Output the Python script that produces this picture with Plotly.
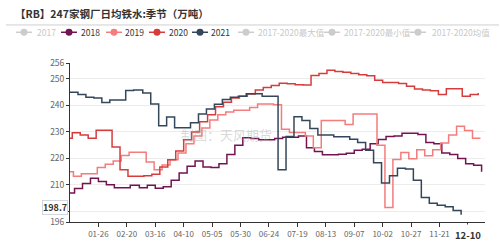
import datetime as dt
import plotly.graph_objects as go

# ---------------- data ----------------
# category axis: MM-DD of a leap year (366 days)
days = [(dt.date(2020, 1, 1) + dt.timedelta(d)).strftime("%m-%d") for d in range(366)]
tick_labels = ["01-26", "02-20", "03-16", "04-10", "05-05", "05-30", "06-24",
               "07-19", "08-13", "09-07", "10-02", "10-27", "11-21", "12-16"]

years = ["2018", "2019", "2020", "2021"]
start_2018 = 206.9
v2018 = [208.6, 210.5, 212.5, 211.3, 210.1, 208.9, 208.9, 209.9, 208.9, 209.9,
         208.7, 209.3, 211.8, 214.5, 217.0, 219.0, 216.8, 216.6, 218.0, 221.5,
         225.0, 227.8, 227.5, 227.0, 227.0, 227.5, 228.0, 228.0, 228.5, 224.0,
         222.6, 221.4, 221.4, 221.6, 221.9, 223.1, 223.5, 225.5, 227.1, 228.3,
         228.5, 229.5, 229.5, 229.0, 226.0, 225.5, 222.0, 221.5, 220.0, 218.0,
         217.4, 215.0]
start_2019 = 215.0
v2019 = [213.3, 214.2, 214.2, 216.6, 217.8, 219.0, 221.1, 222.3, 222.3, 218.6,
         215.7, 217.5, 219.5, 222.0, 225.5, 228.5, 231.5, 234.5, 236.5, 237.5,
         238.2, 238.2, 239.2, 240.5, 240.5, 240.2, 231.0, 229.8, 229.8, 228.5,
         224.0, 234.3, 234.3, 234.3, 232.8, 236.8, 236.8, 236.8, 225.0, 201.5,
         219.6, 222.2, 219.9, 223.3, 221.0, 223.3, 225.8, 228.8, 232.1, 230.5,
         227.6, 227.6]
start_2020 = 227.6
v2020 = [229.7, 228.8, 227.6, 230.6, 230.6, 224.3, 215.7, 213.3, 213.3, 213.5,
         214.0, 216.8, 219.5, 222.8, 227.0, 230.0, 233.8, 236.5, 239.5, 241.2,
         242.8, 243.5, 244.3, 245.8, 246.8, 247.5, 248.4, 248.2, 247.8, 247.7,
         251.3, 252.0, 253.3, 252.8, 252.5, 252.0, 251.6, 251.2, 249.5, 248.6,
         248.6, 248.3, 247.2, 246.2, 245.8, 245.5, 244.1, 246.3, 246.3, 243.5,
         244.1, 244.7]
v2021 = [245.0, 244.1, 243.1, 242.8, 241.1, 242.0, 242.0, 245.6, 245.8, 244.7,
         240.5, 232.3, 235.6, 231.6, 231.6, 233.5, 236.8, 238.6, 240.4, 242.2,
         243.1, 243.5, 244.4, 244.4, 243.5, 243.5, 215.7, 228.3, 235.7, 234.3,
         231.3, 228.8, 228.8, 228.2, 228.2, 227.2, 226.0, 223.1, 218.4, 210.7,
         213.5, 216.3, 216.0, 211.8, 205.2, 203.1, 202.3, 201.8, 200.3, 198.7]
last_date = "12-10"
last_value = 198.7

legend_names = ["2017", "2018", "2019", "2020", "2021",
                "2017-2020最大值", "2017-2020最小值", "2017-2020均值"]
legend_active = [False, True, True, True, True, False, False, False]

# ---------------- styling ----------------
colors = {"2018": "#731452", "2019": "#f47c7c", "2020": "#d63c3c", "2021": "#34475a"}
legend_colors = ["#cccccc", colors["2018"], colors["2019"], colors["2020"],
                 colors["2021"], "#cccccc", "#cccccc", "#cccccc"]
FONT = "Noto Sans CJK SC"
W, H = 500, 251
ML, MR, MT, MB = 70, 15, 63, 25
PW, PH = W - ML - MR, H - MT - MB


def px_x(px):
    return (px - ML) / PW


def px_y(py):
    return (H - MB - py) / PH


def fridays(year, n):
    d = dt.date(year, 1, 1)
    while d.weekday() != 4:
        d += dt.timedelta(1)
    return [days.index((d + dt.timedelta(7 * k)).strftime("%m-%d")) for k in range(n)]


series = {
    "2018": ([0] + fridays(2018, len(v2018)), [start_2018] + v2018),
    "2019": ([0] + fridays(2019, len(v2019)), [start_2019] + v2019),
    "2020": ([0] + fridays(2020, len(v2020)), [start_2020] + v2020),
    "2021": (fridays(2021, len(v2021)), v2021),
}

fig = go.Figure()
for y in years:
    xs, ys = series[y]
    fig.add_trace(go.Scatter(x=xs, y=ys, mode="lines", name=y, showlegend=False,
                             line=dict(color=colors[y], width=1.5, shape="hv"),
                             customdata=[days[i] for i in xs],
                             hovertemplate="%{customdata}: %{y}<extra>" + y + "</extra>"))

shapes = []
annotations = []

# title separator
shapes.append(dict(type="line", xref="paper", yref="paper", x0=px_x(6), x1=px_x(499),
                   y0=px_y(24), y1=px_y(24), line=dict(color="#cfcfcf", width=1)))

# custom legend
icon_cx = [24, 69, 114, 157, 200, 246, 332, 418]
text_x = [35, 79, 123, 167, 209, 256, 342, 430]
LY = 31.5
for name, active, col, cx, tx in zip(legend_names, legend_active, legend_colors, icon_cx, text_x):
    shapes.append(dict(type="line", xref="paper", yref="paper", x0=px_x(cx - 8), x1=px_x(cx + 8),
                       y0=px_y(LY), y1=px_y(LY), line=dict(color=col, width=1.5)))
    shapes.append(dict(type="circle", xref="paper", yref="paper", x0=px_x(cx - 3.5), x1=px_x(cx + 3.5),
                       y0=px_y(LY + 3.5), y1=px_y(LY - 3.5), fillcolor=col, line=dict(color=col, width=0)))
    annotations.append(dict(text=name, xref="paper", yref="paper", x=px_x(tx), y=px_y(LY),
                            xanchor="left", yanchor="middle", showarrow=False,
                            font=dict(family=FONT, size=8.5, color="#333333" if active else "#c8c8c8")))

# watermark
annotations.append(dict(text="制图：天风期货", xref="paper", yref="paper", x=px_x(226), y=px_y(136),
                        xanchor="center", yanchor="middle", showarrow=False,
                        font=dict(family=FONT, size=13, color="rgba(170,170,170,0.45)")))

# axis pointer labels (they sit over the hidden 12-16 / 200 tick labels)
annotations.append(dict(text="<b>" + last_date + "</b>", x=days.index(last_date), xref="x",
                        y=0, yref="paper", yanchor="top", xanchor="center", yshift=-2, xshift=7,
                        showarrow=False, bgcolor="white", borderpad=3,
                        font=dict(family=FONT, size=9.5, color="#333333")))
annotations.append(dict(text="<b>" + str(last_value) + "</b>", x=0, xref="paper",
                        y=last_value, yref="y", xanchor="right", yanchor="middle", xshift=-2, yshift=7,
                        showarrow=False, bgcolor="white", bordercolor="#d0d7e0", borderwidth=1,
                        borderpad=0, font=dict(family=FONT, size=9, color="#333333")))

yt = [196, 200, 210, 220, 230, 240, 250, 256]
fig.update_layout(
    width=W, height=H,
    margin=dict(l=ML, r=MR, t=MT, b=MB),
    paper_bgcolor="white", plot_bgcolor="white",
    showlegend=False,
    title=dict(text="【RB】247家钢厂日均铁水:季节（万吨）", x=15 / W, xanchor="left",
               y=1 - 14 / H, yanchor="middle", xref="container", yref="container",
               font=dict(family=FONT, size=10.5, color="#333333", weight="bold")),
    xaxis=dict(range=[0, 365], showgrid=False, zeroline=False, showline=True,
               linecolor="#333333", linewidth=1, ticks="outside", ticklen=4,
               tickcolor="#333333", tickvals=[days.index(t) for t in tick_labels],
               ticktext=["" if t == "12-16" else t for t in tick_labels],
               tickfont=dict(family=FONT, size=8, color="#666666")),
    yaxis=dict(range=[196, 256], showgrid=True, gridcolor="#ececec", zeroline=False,
               showline=True, linecolor="#333333", linewidth=1, ticks="outside", ticklen=3,
               tickcolor="#333333", tickvals=yt,
               ticktext=["" if v == 200 else str(v) for v in yt],
               tickfont=dict(family=FONT, size=8.5, color="#666666")),
    shapes=shapes, annotations=annotations,
)
fig.write_html("out.html")
